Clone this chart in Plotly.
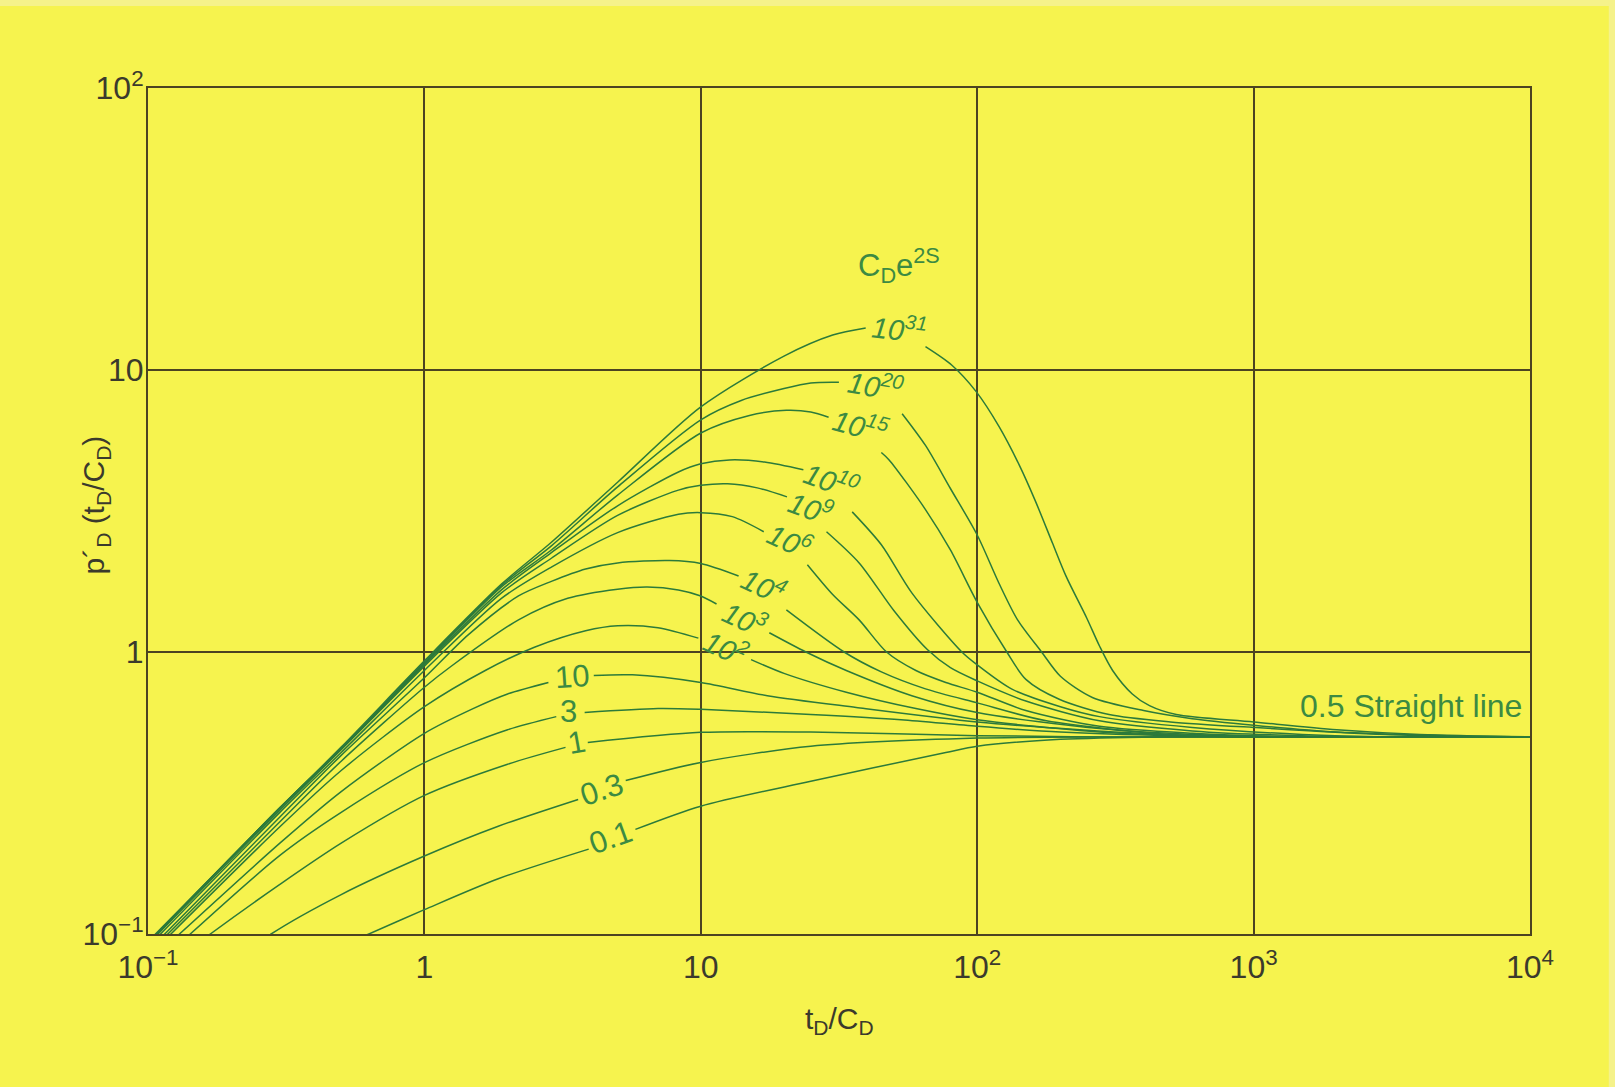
import math
import plotly.graph_objects as go

# ---- Bourdet derivative type curves: p_D'(t_D/C_D) vs t_D/C_D ----
# one (t, dp) pair of lists per C_D e^{2S} value; None marks the break where the label sits
t_01 = [0.5, 0.63, 1, 1.85, 3.93, None, 5.8, 10, 25, 77, 100, 200, 456, 1000, 10000]
d_01 = [0.091, 0.1, 0.122, 0.157, 0.2, None, 0.235, 0.284, 0.348, 0.44, 0.463, 0.49, 0.5, 0.5, 0.5]

t_03 = [0.2, 0.279, 0.5, 1, 1.85, 3.6, None, 5.35, 10, 25, 100, 300, 10000]
d_03 = [0.078, 0.1, 0.138, 0.189, 0.241, 0.30, None, 0.35, 0.406, 0.463, 0.495, 0.5, 0.5]

t_1 = [0.1, 0.168, 0.3, 0.5, 1, 2, 3.24, None, 3.9, 10, 25, 100, 300, 10000]
d_1 = [0.068, 0.1, 0.15, 0.21, 0.31, 0.40, 0.459, None, 0.478, 0.519, 0.52, 0.505, 0.5, 0.5]

t_3 = [0.1, 0.3, 0.5, 1, 2, 3.0, None, 3.8, 7, 10, 25, 53, 100, 200, 500, 1500, 10000]
d_3 = [0.073, 0.19, 0.27, 0.405, 0.53, 0.59, None, 0.61, 0.63, 0.626, 0.60, 0.575, 0.545, 0.52, 0.505, 0.5, 0.5]

t_10 = [0.1, 0.3, 0.5, 1, 1.5, 2, 2.81, None, 4.1, 5.66, 10, 17.4, 36.5, 100, 235, 600, 2000, 10000]
d_10 = [0.079, 0.21, 0.32, 0.515, 0.63, 0.71, 0.78, None, 0.826, 0.83, 0.78, 0.70, 0.636, 0.565, 0.53, 0.505, 0.5, 0.5]

t_1e2 = [0.1, 0.3, 0.5, 1, 1.66, 2.5, 3.83, 5, 7, 9.8, None, 15.2, 20, 33.6, 60, 100, 277, 600, 1500, 10000]
d_1e2 = [0.083, 0.24, 0.38, 0.64, 0.86, 1.04, 1.19, 1.24, 1.22, 1.12, None, 0.94, 0.84, 0.72, 0.63, 0.575, 0.52, 0.505, 0.5, 0.5]

t_1e3 = [0.1, 0.3, 0.5, 1, 1.25, 2.19, 3.3, 5, 6.4, 8.3, 10, 11.4, None, 17.7, 24, 33.6, 58, 100, 277, 600, 1500, 10000]
d_1e3 = [0.085, 0.25, 0.41, 0.75, 0.89, 1.3, 1.55, 1.67, 1.7, 1.66, 1.58, 1.48, None, 1.17, 1.0, 0.86, 0.7, 0.61, 0.535, 0.51, 0.5, 0.5]

t_1e4 = [0.1, 0.3, 0.5, 1, 1.44, 2.19, 2.88, 3.83, 5, 7.7, 10, 13.7, None, 20.4, 33, 45, 65, 100, 178, 500, 1500, 10000]
d_1e4 = [0.087, 0.26, 0.43, 0.81, 1.15, 1.58, 1.78, 1.97, 2.07, 2.11, 2.06, 1.86, None, 1.41, 1.0, 0.85, 0.74, 0.66, 0.57, 0.51, 0.5, 0.5]

t_1e6 = [0.1, 0.3, 0.5, 1, 1.9, 2.88, 5, 8.3, 10, 13, 16.9, None, 24.3, 30, 37.4, 47, 60, 77, 100, 150, 277, 600, 1500, 10000]
d_1e6 = [0.09, 0.27, 0.44, 0.86, 1.55, 2.0, 2.65, 3.08, 3.12, 3.02, 2.67, None, 2.04, 1.6, 1.3, 1.0, 0.86, 0.78, 0.72, 0.62, 0.545, 0.515, 0.5, 0.5]

t_1e9 = [0.1, 0.3, 0.5, 1, 1.9, 2.88, 5, 8.3, 10, 12.5, 16, 20.5, None, 28.5, 37.4, 50, 66, 80, 100, 150, 277, 600, 1500, 10000]
d_1e9 = [0.092, 0.275, 0.45, 0.89, 1.62, 2.15, 3.05, 3.75, 3.9, 3.95, 3.82, 3.55, None, 2.67, 2.07, 1.4, 1.02, 0.88, 0.79, 0.67, 0.57, 0.525, 0.505, 0.5]

t_1e10 = [0.1, 0.3, 0.5, 1, 1.9, 2.88, 5, 8.3, 10, 12.7, 17, 23.5, None, 35.3, 45, 58, 88, 100, 133, 200, 277, 600, 1500, 3000, 10000]
d_1e10 = [0.093, 0.28, 0.455, 0.9, 1.66, 2.25, 3.3, 4.35, 4.65, 4.8, 4.72, 4.43, None, 3.14, 2.4, 1.62, 1.0, 0.9, 0.74, 0.64, 0.59, 0.54, 0.51, 0.5, 0.5]

t_1e15 = [0.1, 0.3, 0.5, 1, 1.9, 2.88, 5, 10, 15, 20.4, 25, 29, None, 45, 48, 65, 80, 100, 128, 150, 198, 300, 500, 1000, 3000, 10000]
d_1e15 = [0.093, 0.28, 0.455, 0.91, 1.7, 2.3, 3.6, 5.98, 6.9, 7.2, 7.1, 6.8, None, 5.1, 4.8, 3.2, 2.3, 1.5, 1.0, 0.8, 0.68, 0.6, 0.565, 0.54, 0.51, 0.5]

t_1e20 = [0.1, 0.3, 0.5, 1, 1.9, 2.88, 5, 10, 14, 20, 25, 31.6, None, 53.5, 65, 80, 100, 120, 140, 171, 200, 261, 400, 600, 1000, 2000, 5000, 10000]
d_1e20 = [0.093, 0.28, 0.455, 0.92, 1.72, 2.38, 3.85, 6.66, 7.8, 8.6, 9.0, 9.05, None, 7.0, 5.4, 3.8, 2.6, 1.75, 1.3, 1.0, 0.82, 0.69, 0.62, 0.58, 0.55, 0.52, 0.505, 0.5]

t_1e31 = [0.1, 0.3, 0.5, 1, 1.9, 2.88, 5, 10, 20, 30, 39.5, None, 65, 81, 99, 120, 142, 163, 187, 210, 249, 277, 309, 364, 420, 525, 1000, 2000, 4000, 10000]
d_1e31 = [0.094, 0.28, 0.46, 0.93, 1.74, 2.45, 4.0, 7.4, 11.2, 13.3, 14.1, None, 12.1, 10.4, 8.4, 6.3, 4.6, 3.4, 2.44, 1.85, 1.32, 1.05, 0.86, 0.71, 0.645, 0.6, 0.565, 0.53, 0.51, 0.5]

curves = [
    (t_01, d_01), (t_03, d_03), (t_1, d_1), (t_3, d_3), (t_10, d_10),
    (t_1e2, d_1e2), (t_1e3, d_1e3), (t_1e4, d_1e4), (t_1e6, d_1e6),
    (t_1e9, d_1e9), (t_1e10, d_1e10), (t_1e15, d_1e15), (t_1e20, d_1e20),
    (t_1e31, d_1e31),
]

# curve labels: text, position (t, dp), rotation
label_text = ["0.1", "0.3", "1", "3", "10",
              "<i>10<sup>2</sup></i>", "<i>10<sup>3</sup></i>", "<i>10<sup>4</sup></i>",
              "<i>10<sup>6</sup></i>", "<i>10<sup>9</sup></i>", "<i>10<sup>10</sup></i>",
              "<i>10<sup>15</sup></i>", "<i>10<sup>20</sup></i>", "<i>10<sup>31</sup></i>"]
label_t = [4.72, 4.38, 3.55, 3.32, 3.41, 12.3, 14.4, 16.9, 21.0, 25.0, 29.8, 38.0, 43.1, 52.2]
label_d = [0.22, 0.326, 0.478, 0.616, 0.819, 1.04, 1.32, 1.73, 2.5, 3.27, 4.08, 6.39, 8.85, 14.1]
label_angle = [-20, -18, -10, 0, -4, 25, 25, 25, 25, 20, 20, 15, 10, 6]
label_size = [31, 31, 31, 31, 31, 29, 29, 29, 29, 29, 29, 29, 29, 29]

x_tickvals = [0.1, 1, 10, 100, 1000, 10000]
x_ticktext = ["10<sup>\u22121</sup>", "1", "10", "10<sup>2</sup>", "10<sup>3</sup>", "10<sup>4</sup>"]
y_tickvals = [0.1, 1, 10, 100]
y_ticktext = ["10<sup>\u22121</sup>", "1", "10", "10<sup>2</sup>"]

BG = "#f6f34e"
EDGE = "#f5f28a"
GRID = "#4b4321"
GREEN = "#2c7a3a"
LABEL_GREEN = "#3c8a42"
TEXT = "#3b3a2c"
FONT = "Liberation Sans, Arial, sans-serif"

fig = go.Figure()
for t, d in curves:
    fig.add_trace(go.Scatter(
        x=t, y=d, mode="lines",
        line=dict(color=GREEN, width=1.5, shape="spline", smoothing=0.8),
        connectgaps=False, hoverinfo="skip",
    ))

for txt, t, d, ang, sz in zip(label_text, label_t, label_d, label_angle, label_size):
    fig.add_annotation(
        x=math.log10(t), y=math.log10(d), xref="x", yref="y",
        text=txt, showarrow=False, textangle=ang,
        xanchor="center", yanchor="middle",
        font=dict(family=FONT, size=sz, color=LABEL_GREEN),
    )

fig.add_annotation(
    x=math.log10(52.2), y=math.log10(23.5), xref="x", yref="y",
    text="C<sub>D</sub>e<sup>2S</sup>", showarrow=False,
    xanchor="center", yanchor="middle",
    font=dict(family=FONT, size=31, color=LABEL_GREEN),
)
fig.add_annotation(
    x=math.log10(3705), y=math.log10(0.641), xref="x", yref="y",
    text="0.5 Straight line", showarrow=False,
    xanchor="center", yanchor="middle",
    font=dict(family=FONT, size=32, color=LABEL_GREEN),
)

# axis titles
fig.add_annotation(
    x=0.5007, y=-0.102, xref="paper", yref="paper",
    text="t<sub>D</sub>/C<sub>D</sub>", showarrow=False,
    xanchor="center", yanchor="middle",
    font=dict(family=FONT, size=30, color=TEXT),
)
fig.add_annotation(
    x=-0.038, y=0.507, xref="paper", yref="paper",
    text="p\u00b4<sub>D</sub> (t<sub>D</sub>/C<sub>D</sub>)", showarrow=False,
    textangle=-90, xanchor="center", yanchor="middle",
    font=dict(family=FONT, size=30, color=TEXT),
)

# faint pale scan border along the top and right edges
fig.add_shape(type="rect", xref="paper", yref="paper", x0=-0.2, x1=1.1, y0=1.097, y1=1.11,
              fillcolor=EDGE, line_width=0, layer="below")
fig.add_shape(type="rect", xref="paper", yref="paper", x0=1.057, x1=1.1, y0=-0.2, y1=1.11,
              fillcolor=EDGE, line_width=0, layer="below")

axis_common = dict(
    type="log", showgrid=True, gridcolor=GRID, gridwidth=2,
    showline=True, linecolor=GRID, linewidth=2, mirror=True,
    ticks="outside", tickcolor="rgba(0,0,0,0)",
    tickfont=dict(family=FONT, size=32, color=TEXT),
    zeroline=False, tickmode="array",
)
fig.update_xaxes(range=[-1, 4], tickvals=x_tickvals, ticktext=x_ticktext, ticklen=4, **axis_common)
fig.update_yaxes(range=[-1, 2], tickvals=y_tickvals, ticktext=y_ticktext, ticklen=0,
                 ticklabelstandoff=-4, **axis_common)

fig.update_layout(
    width=1615, height=1087,
    margin=dict(l=148, r=85, t=88, b=153),
    paper_bgcolor=BG, plot_bgcolor=BG,
    showlegend=False,
    font=dict(family=FONT),
)

fig.write_html("out.html")
